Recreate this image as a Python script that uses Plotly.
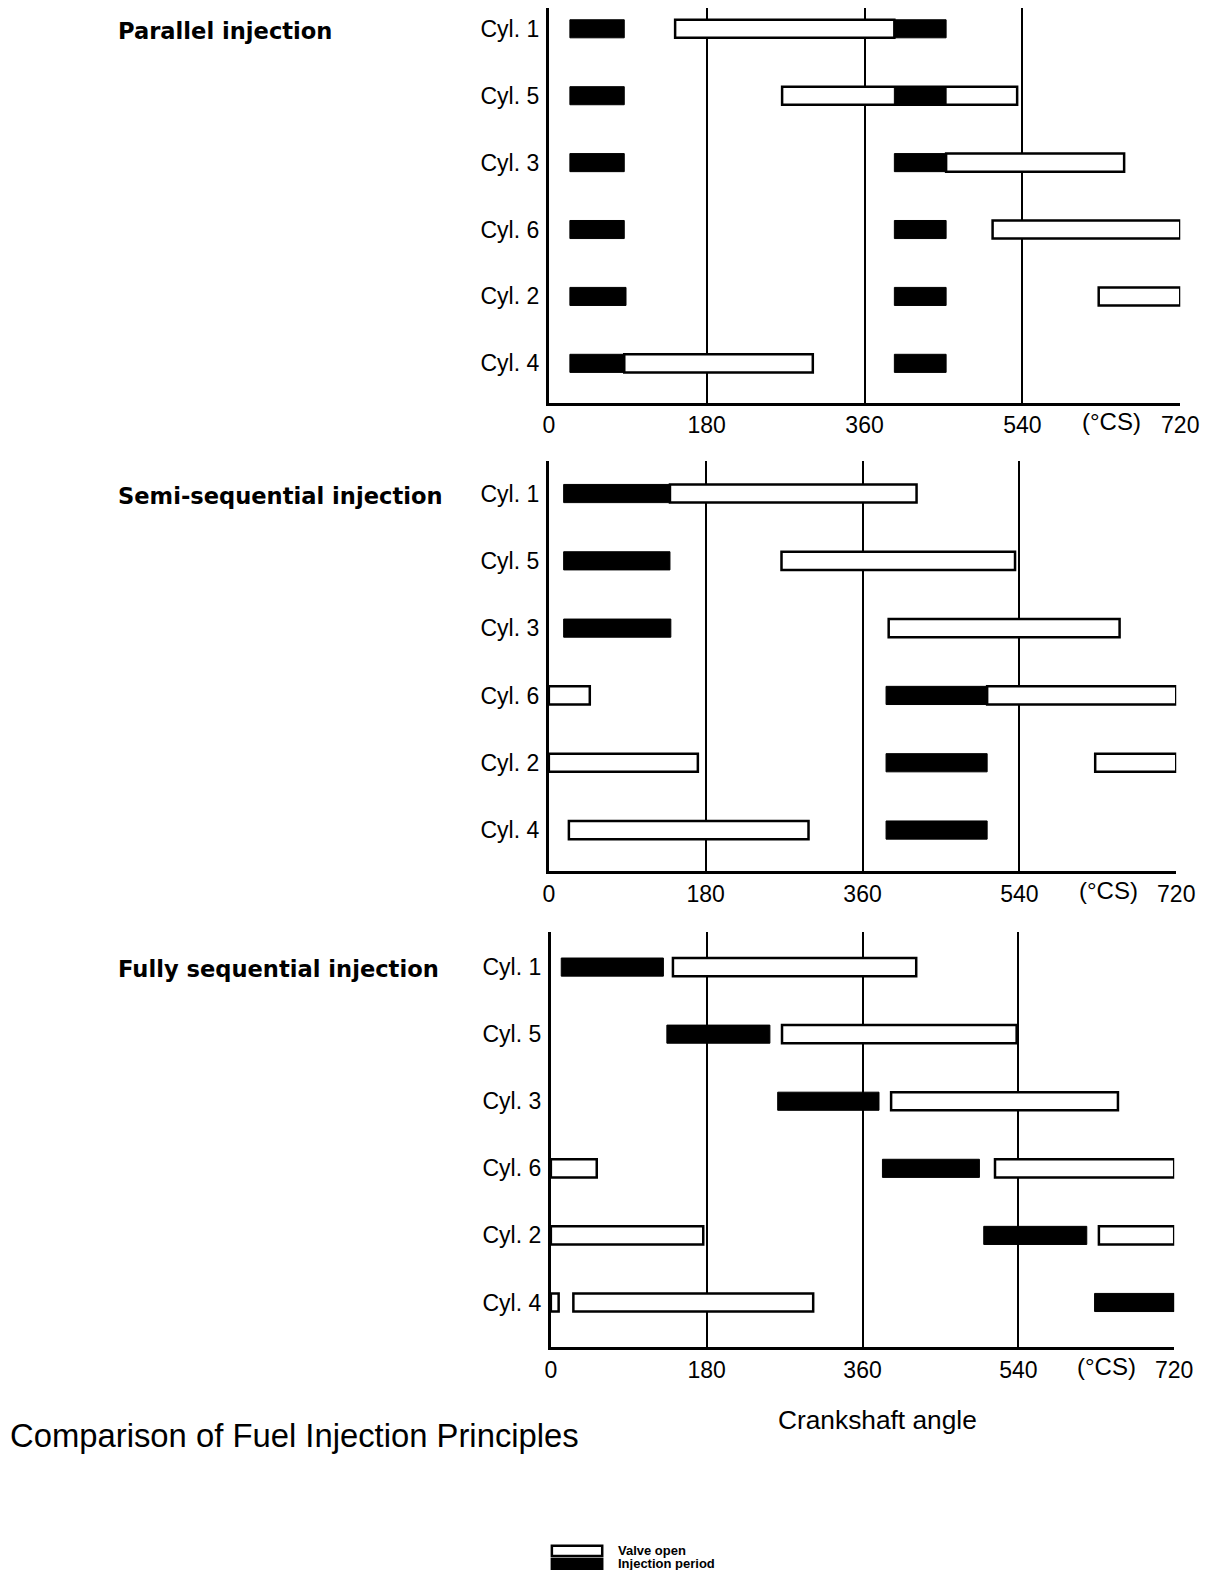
import plotly.graph_objects as go

# ---------------- data ----------------
CYLINDERS = ["Cyl. 1", "Cyl. 5", "Cyl. 3", "Cyl. 6", "Cyl. 2", "Cyl. 4"]  # top to bottom
X_TICKS = [0, 180, 360, 540, 720]
X_TICK_TEXT = ["0", "180", "360", "540", "720"]
UNIT_LABEL = "(°CS)"
UNIT_POS = 642
PANEL_TITLES = ["Parallel injection", "Semi-sequential injection", "Fully sequential injection"]
LEGEND_NAMES = ["Valve open", "Injection period"]

# Parallel injection
PAR_OPEN_CYL = ["Cyl. 1", "Cyl. 5", "Cyl. 3", "Cyl. 6", "Cyl. 2", "Cyl. 4"]
PAR_OPEN_START = [144, 266, 453, 506, 627, 86]
PAR_OPEN_END = [394, 534, 656, 720, 720, 301]
PAR_INJ_CYL = ["Cyl. 1", "Cyl. 5", "Cyl. 3", "Cyl. 6", "Cyl. 2", "Cyl. 4",
               "Cyl. 1", "Cyl. 5", "Cyl. 3", "Cyl. 6", "Cyl. 2", "Cyl. 4"]
PAR_INJ_START = [24, 24, 24, 24, 24, 24, 394, 394, 394, 394, 394, 394]
PAR_INJ_END = [86, 86, 86, 86, 88, 86, 453, 453, 453, 453, 453, 453]

# Semi-sequential injection
SEMI_OPEN_CYL = ["Cyl. 1", "Cyl. 5", "Cyl. 3", "Cyl. 6", "Cyl. 6", "Cyl. 2", "Cyl. 2", "Cyl. 4"]
SEMI_OPEN_START = [139, 267, 390, 0, 503, 0, 627, 23]
SEMI_OPEN_END = [422, 535, 655, 47, 720, 171, 720, 298]
SEMI_INJ_CYL = ["Cyl. 1", "Cyl. 5", "Cyl. 3", "Cyl. 6", "Cyl. 2", "Cyl. 4"]
SEMI_INJ_START = [17, 17, 17, 387, 387, 387]
SEMI_INJ_END = [139, 139, 140, 503, 503, 503]

# Fully sequential injection
FULL_OPEN_CYL = ["Cyl. 1", "Cyl. 5", "Cyl. 3", "Cyl. 6", "Cyl. 6", "Cyl. 2", "Cyl. 2", "Cyl. 4", "Cyl. 4"]
FULL_OPEN_START = [141, 267, 393, 0, 513, 0, 633, 0, 26]
FULL_OPEN_END = [422, 538, 655, 53, 720, 176, 720, 9, 303]
FULL_INJ_CYL = ["Cyl. 1", "Cyl. 5", "Cyl. 3", "Cyl. 6", "Cyl. 2", "Cyl. 4"]
FULL_INJ_START = [12, 134, 262, 383, 500, 628]
FULL_INJ_END = [130, 253, 379, 495, 619, 720]

# ---------------- layout helpers ----------------
# page body margin is 8px; the figure sits at (8, 8) in the window
OFF = 8
W, H = 1200, 1562
SHRINK = 0.993  # reference screen -> full-size pixel factor


def fx(d):
    """reference screen x -> paper fraction"""
    return min(1.0, max(0.0, (d / SHRINK - OFF) / W))


def fy(d):
    """reference screen y -> paper fraction"""
    return min(1.0, max(0.0, 1 - (d / SHRINK - OFF) / H))


panels = [
    dict(open=(PAR_OPEN_CYL, PAR_OPEN_START, PAR_OPEN_END),
         inj=(PAR_INJ_CYL, PAR_INJ_START, PAR_INJ_END),
         xd=(545, 1172), yd=(8, 400), yr=(-0.59, 5.31), title_y=31),
    dict(open=(SEMI_OPEN_CYL, SEMI_OPEN_START, SEMI_OPEN_END),
         inj=(SEMI_INJ_CYL, SEMI_INJ_START, SEMI_INJ_END),
         xd=(545, 1168), yd=(458, 865), yr=(-0.61, 5.48), title_y=493),
    dict(open=(FULL_OPEN_CYL, FULL_OPEN_START, FULL_OPEN_END),
         inj=(FULL_INJ_CYL, FULL_INJ_START, FULL_INJ_END),
         xd=(547, 1166), yd=(925, 1338), yr=(-0.67, 5.53), title_y=962),
]

FONT = "Liberation Sans, Arial, Helvetica, sans-serif"
BAR_W = 0.27

fig = go.Figure()
annotations = []
shapes = []
cat_order = list(reversed(CYLINDERS))

for i, p in enumerate(panels):
    sfx = "" if i == 0 else str(i + 1)
    xa, ya = "x" + sfx, "y" + sfx
    oc, os_, oe = p["open"]
    ic, is_, ie = p["inj"]
    fig.add_trace(go.Bar(
        orientation="h", y=oc, base=os_, x=[e - s for s, e in zip(os_, oe)],
        width=BAR_W, marker=dict(color="white", line=dict(color="black", width=2.5)),
        xaxis=xa, yaxis=ya, showlegend=False, name=LEGEND_NAMES[0]))
    fig.add_trace(go.Bar(
        orientation="h", y=ic, base=is_, x=[e - s for s, e in zip(is_, ie)],
        width=BAR_W, marker=dict(color="black", line=dict(color="black", width=1)),
        xaxis=xa, yaxis=ya, showlegend=False, name=LEGEND_NAMES[1]))

    x0, x1 = p["xd"]
    y0, y1 = p["yd"]
    xkey = "xaxis" + sfx
    ykey = "yaxis" + sfx
    fig.layout[xkey] = dict(
        domain=[fx(x0), fx(x1)], range=[0, 720], anchor=ya, automargin=False,
        tickvals=X_TICKS, ticktext=X_TICK_TEXT, showgrid=True,
        gridcolor="black", gridwidth=2, zeroline=False,
        showline=True, linecolor="black", linewidth=3,
        ticks="", tickfont=dict(family=FONT, size=23, color="black"),
        fixedrange=True)
    fig.layout[ykey] = dict(
        domain=[fy(y1), fy(y0)], range=list(p["yr"]), anchor=xa, automargin=False,
        type="category", categoryorder="array", categoryarray=cat_order,
        showgrid=False, zeroline=False, showline=True, linecolor="black",
        linewidth=3, ticks="", ticklabelstandoff=2,
        tickfont=dict(family=FONT, size=23, color="black"), fixedrange=True)
    annotations.append(dict(
        text=UNIT_LABEL, x=UNIT_POS, xref=xa, y=0, yref=ya + " domain",
        yshift=-19, yanchor="middle", xanchor="center", showarrow=False,
        font=dict(family=FONT, size=24, color="black")))
    annotations.append(dict(
        text=PANEL_TITLES[i], x=fx(115), xref="paper", y=fy(p["title_y"]),
        yref="paper", xanchor="left", yanchor="middle", showarrow=False,
        font=dict(family="DejaVu Sans", size=22.6, color="black", weight="bold")))

annotations.append(dict(
    text="Comparison of Fuel Injection Principles", x=0, xref="paper",
    y=fy(1425), yref="paper", xanchor="left", yanchor="middle",
    showarrow=False, font=dict(family=FONT, size=32.8, color="black")))
annotations.append(dict(
    text="Crankshaft angle", x=fx(771), xref="paper", y=fy(1410),
    yref="paper", xanchor="left", yanchor="middle", showarrow=False,
    font=dict(family=FONT, size=26.3, color="black")))

# legend key (decoration)
legend_rows = [(1540, "white"), (1553, "black")]
for (yc, fill), name in zip(legend_rows, LEGEND_NAMES):
    shapes.append(dict(type="rect", xref="paper", yref="paper",
                       x0=fx(548), x1=fx(598), y0=fy(yc + 5), y1=fy(yc - 5),
                       fillcolor=fill, line=dict(color="black", width=2.5)))
    annotations.append(dict(
        text=name, x=fx(612), xref="paper", y=fy(yc), yref="paper",
        xanchor="left", yanchor="middle", showarrow=False,
        font=dict(family=FONT, size=13, color="black", weight="bold")))

fig.update_layout(
    width=W, height=H, margin=dict(l=0, r=0, t=0, b=0, autoexpand=False),
    paper_bgcolor="white", plot_bgcolor="white", barmode="overlay",
    showlegend=False, annotations=annotations, shapes=shapes)

fig.write_html("out.html")
